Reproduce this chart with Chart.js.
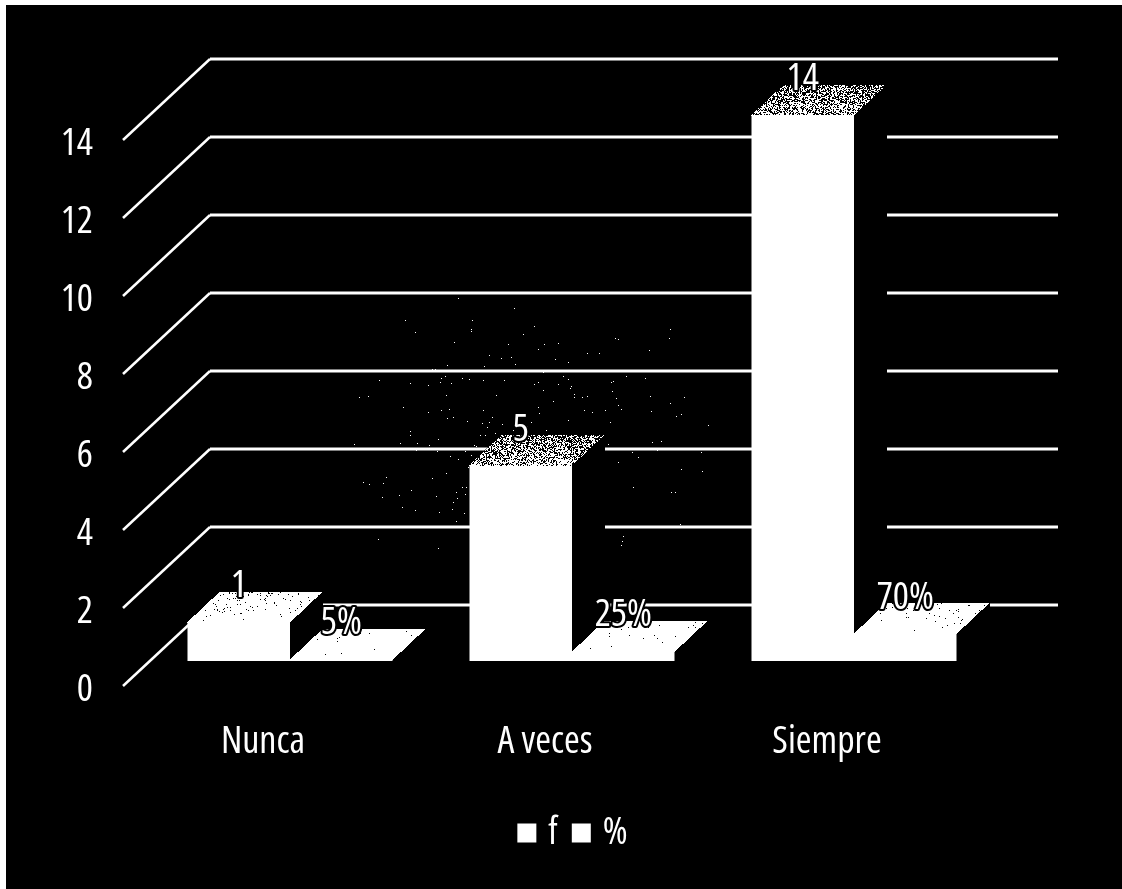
<!DOCTYPE html>
<html lang="es">
<head>
<meta charset="utf-8">
<title>f y % por frecuencia</title>
<style>
  html, body { margin: 0; padding: 0; background: #fff; }
  canvas { display: block; }
</style>
<script src="https://cdn.jsdelivr.net/npm/chart.js@4"></script>
</head>
<body>
<canvas id="chart" width="1122" height="889"></canvas>
<script>
const categories = ['Nunca', 'A veces', 'Siempre'];
const frecuencia = [1, 5, 14];
const porcentaje = [0.05, 0.25, 0.7];
const etiquetasF = ['1', '5', '14'];
const etiquetasP = ['5%', '25%', '70%'];
const yTicks = [0, 2, 4, 6, 8, 10, 12, 14];

const FONT_FAMILY = '"Open Sans", sans-serif';
const FONT_WIDTH = 'condensed';                  // the family carries a width axis
const WALL = { dx: 88, dy: -81, right: 1058 };   // back wall of the 3D box
const PLANE = { dx: 27, dy: -25 };               // bars stand in front of the wall
const DEPTH = { dx: 33, dy: -31 };               // bar depth
// share of lit pixels on each top face, near edge then far edge
const grainF = [[1, 0.93], [0.68, 0.42], [0.62, 0.4]];
const grainP = [[1, 0.99], [1, 0.99], [1, 0.97]];

function noise(x, y) {
  const a = Math.sin(x * 127.1 + y * 311.7) * 43758.5453;
  const b = a - Math.floor(a);
  const s = Math.sin((b + x * 0.017) * 269.5 + y * 183.3) * 24634.6345;
  return s - Math.floor(s);
}

function drawTopFace(ctx, left, top, width, grain) {
  const rows = -DEPTH.dy;
  ctx.fillStyle = '#fff';
  for (let r = 0; r < rows; r++) {
    const t = r / rows;
    const density = grain[0] + (grain[1] - grain[0]) * t;
    const shift = Math.round(DEPTH.dx * t);
    for (let p = 0; p < width; p++) {
      const px = left + p + shift, py = top - r;
      if (density >= 1 || noise(px, py) < density) ctx.fillRect(px, py, 1, 1);
    }
  }
}

function drawBarSolid(ctx, bar, grain) {
  const left = Math.round(bar.x - bar.width / 2 + PLANE.dx);
  const right = Math.round(bar.x + bar.width / 2 + PLANE.dx);
  const top = Math.floor(bar.y + PLANE.dy);
  const bottom = Math.round(bar.base + PLANE.dy);
  ctx.fillStyle = '#000';
  ctx.beginPath();
  ctx.moveTo(left, top);
  ctx.lineTo(left + DEPTH.dx, top + DEPTH.dy);
  ctx.lineTo(right + DEPTH.dx, top + DEPTH.dy);
  ctx.lineTo(right + DEPTH.dx, bottom + DEPTH.dy);
  ctx.lineTo(right, bottom);
  ctx.lineTo(right, top);
  ctx.closePath();
  ctx.fill();
  drawTopFace(ctx, left, top, right - left, grain);
}

// scanner dust that thins out with distance from the middle column's top
function drawDust(ctx, bar) {
  const cx = Math.round(bar.x + PLANE.dx), cy = Math.round(bar.y + PLANE.dy);
  ctx.fillStyle = '#fff';
  for (let py = cy - 170; py < cy + 90; py++) {
    for (let px = cx - 170; px < cx + 190; px++) {
      const dist = Math.hypot(px - cx, py - cy);
      if (noise(px, py) < 0.02 * Math.exp(-dist / 55)) ctx.fillRect(px, py, 1, 1);
    }
  }
}

const box3d = {
  id: 'box3d',
  beforeDraw(chart) {
    const ctx = chart.ctx;
    ctx.fillStyle = '#000';
    ctx.fillRect(6, 5, chart.width - 6, chart.height - 5);
  },
  afterLayout(chart) {
    // the legend sits centred under the bars, not under the whole canvas
    chart.legend.left = 270;
    chart.legend.right = 882;
  },
  beforeDatasetsDraw(chart) {
    const ctx = chart.ctx, y = chart.scales.y;
    ctx.save();
    ctx.strokeStyle = '#fff';
    ctx.lineCap = 'butt';
    yTicks.forEach(v => {
      const py = y.getPixelForValue(v);
      const xBack = y.right + WALL.dx, yBack = py + WALL.dy;
      ctx.lineWidth = 2.5;
      ctx.beginPath();
      ctx.moveTo(y.right + 1, py);
      ctx.lineTo(xBack, yBack);
      ctx.stroke();
      ctx.lineWidth = 3;
      ctx.beginPath();
      ctx.moveTo(xBack, yBack);
      ctx.lineTo(WALL.right, yBack);
      ctx.stroke();
    });
    drawDust(ctx, chart.getDatasetMeta(0).data[1]);
    chart.getDatasetMeta(0).data.forEach((bar, i) => drawBarSolid(ctx, bar, grainF[i]));
    chart.getDatasetMeta(1).data.forEach((bar, i) => drawBarSolid(ctx, bar, grainP[i]));
    ctx.restore();
    ctx.save();
    ctx.translate(PLANE.dx, PLANE.dy);
  },
  afterDatasetsDraw(chart) {
    const ctx = chart.ctx;
    ctx.restore();
    ctx.save();
    ctx.font = FONT_WIDTH + ' 38px ' + FONT_FAMILY;
    ctx.textAlign = 'center';
    ctx.textBaseline = 'alphabetic';
    ctx.lineJoin = 'round';
    [etiquetasF, etiquetasP].forEach((texts, d) => {
      chart.getDatasetMeta(d).data.forEach((bar, i) => {
        const lx = bar.x + PLANE.dx, ly = bar.y + PLANE.dy - 25;
        ctx.strokeStyle = '#000';
        ctx.lineWidth = 4;
        ctx.strokeText(texts[i], lx, ly);
        ctx.fillStyle = '#fff';
        ctx.fillText(texts[i], lx, ly);
      });
    });
    ctx.restore();
  }
};

const tickFont = { family: FONT_FAMILY, weight: FONT_WIDTH, size: 38 };

new Chart(document.getElementById('chart'), {
  type: 'bar',
  data: {
    labels: categories,
    datasets: [
      { label: 'f', data: frecuencia, backgroundColor: '#fff', borderWidth: 0, clip: false },
      { label: '%', data: porcentaje, backgroundColor: '#fff', borderWidth: 0, clip: false }
    ]
  },
  options: {
    responsive: false,
    animation: false,
    events: [],
    layout: { padding: { top: 140, left: 0, right: 154, bottom: 27 } },
    categoryPercentage: 0.727,
    barPercentage: 1,
    scales: {
      x: {
        grid: { display: false, drawTicks: false },
        border: { display: false },
        ticks: { color: '#fff', font: tickFont, padding: 33, maxRotation: 0 },
        afterFit(scale) { scale.height = 107; }
      },
      y: {
        min: 0,
        max: 14,
        afterBuildTicks(scale) { scale.ticks = yTicks.map(value => ({ value })); },
        grid: { display: false, drawTicks: false },
        border: { display: false },
        ticks: { color: '#fff', font: tickFont, padding: 29, labelOffset: 4 },
        afterFit(scale) { scale.width = 122; }
      }
    },
    plugins: {
      tooltip: { enabled: false },
      legend: {
        position: 'bottom',
        labels: {
          color: '#fff',
          font: tickFont,
          boxWidth: 5,
          boxHeight: 5,
          padding: 21,
          generateLabels(chart) {
            return chart.data.datasets.map((ds, i) => ({
              text: ds.label,
              fontColor: '#fff',
              fillStyle: '#fff',
              strokeStyle: '#fff',
              lineWidth: 14,
              datasetIndex: i
            }));
          }
        }
      }
    }
  },
  plugins: [box3d]
});
</script>
</body>
</html>
